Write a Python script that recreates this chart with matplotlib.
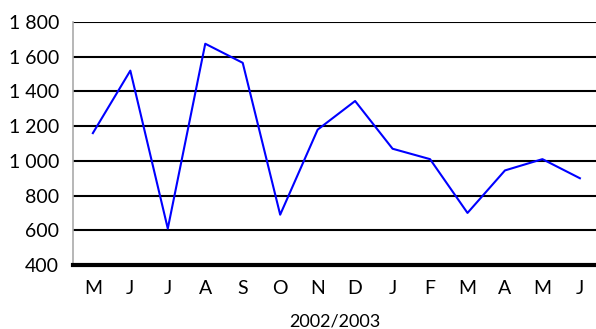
import numpy as np
import matplotlib
matplotlib.use('Agg')
import matplotlib.pyplot as plt

months = ["M", "J", "J", "A", "S", "O", "N", "D", "J", "F", "M", "A", "M", "J"]
values = [1160, 1520, 610, 1675, 1565, 690, 1180, 1345, 1070, 1010, 700, 945, 1010, 900]
y_ticks = [400, 600, 800, 1000, 1200, 1400, 1600, 1800]
y_labels = ["400", "600", "800", "1 000", "1 200", "1 400", "1 600", "1 800"]

plt.rcParams['font.family'] = ['Lato', 'DejaVu Sans']

fig = plt.figure(figsize=(5.96, 3.29), dpi=100)
ax = fig.add_axes([0.1225, 0.1945, 0.8775, 0.7385])

x = np.arange(len(months))
ax.plot(x, values, color="#0000ff", lw=1.5, zorder=3)

ax.set_xlim(-0.53, 13.43)
ax.set_ylim(400, 1800)
ax.set_yticks(y_ticks)
ax.set_yticklabels(y_labels, fontsize=14)
ax.set_xticks(x)
ax.set_xticklabels(months, fontsize=14)
ax.tick_params(length=0, pad=11)
ax.tick_params(axis='y', pad=10)

for yv in y_ticks[1:]:
    ax.axhline(yv, color="black", lw=1.5, zorder=2)

for s in ["top", "right"]:
    ax.spines[s].set_visible(False)
ax.spines["left"].set_color("#aaaaaa")
ax.spines["left"].set_linewidth(1.2)
ax.spines["bottom"].set_color("black")
ax.spines["bottom"].set_linewidth(3)

ax.set_xlabel("2002/2003", fontsize=13, labelpad=12)

fig.savefig("out.png", dpi=100)
